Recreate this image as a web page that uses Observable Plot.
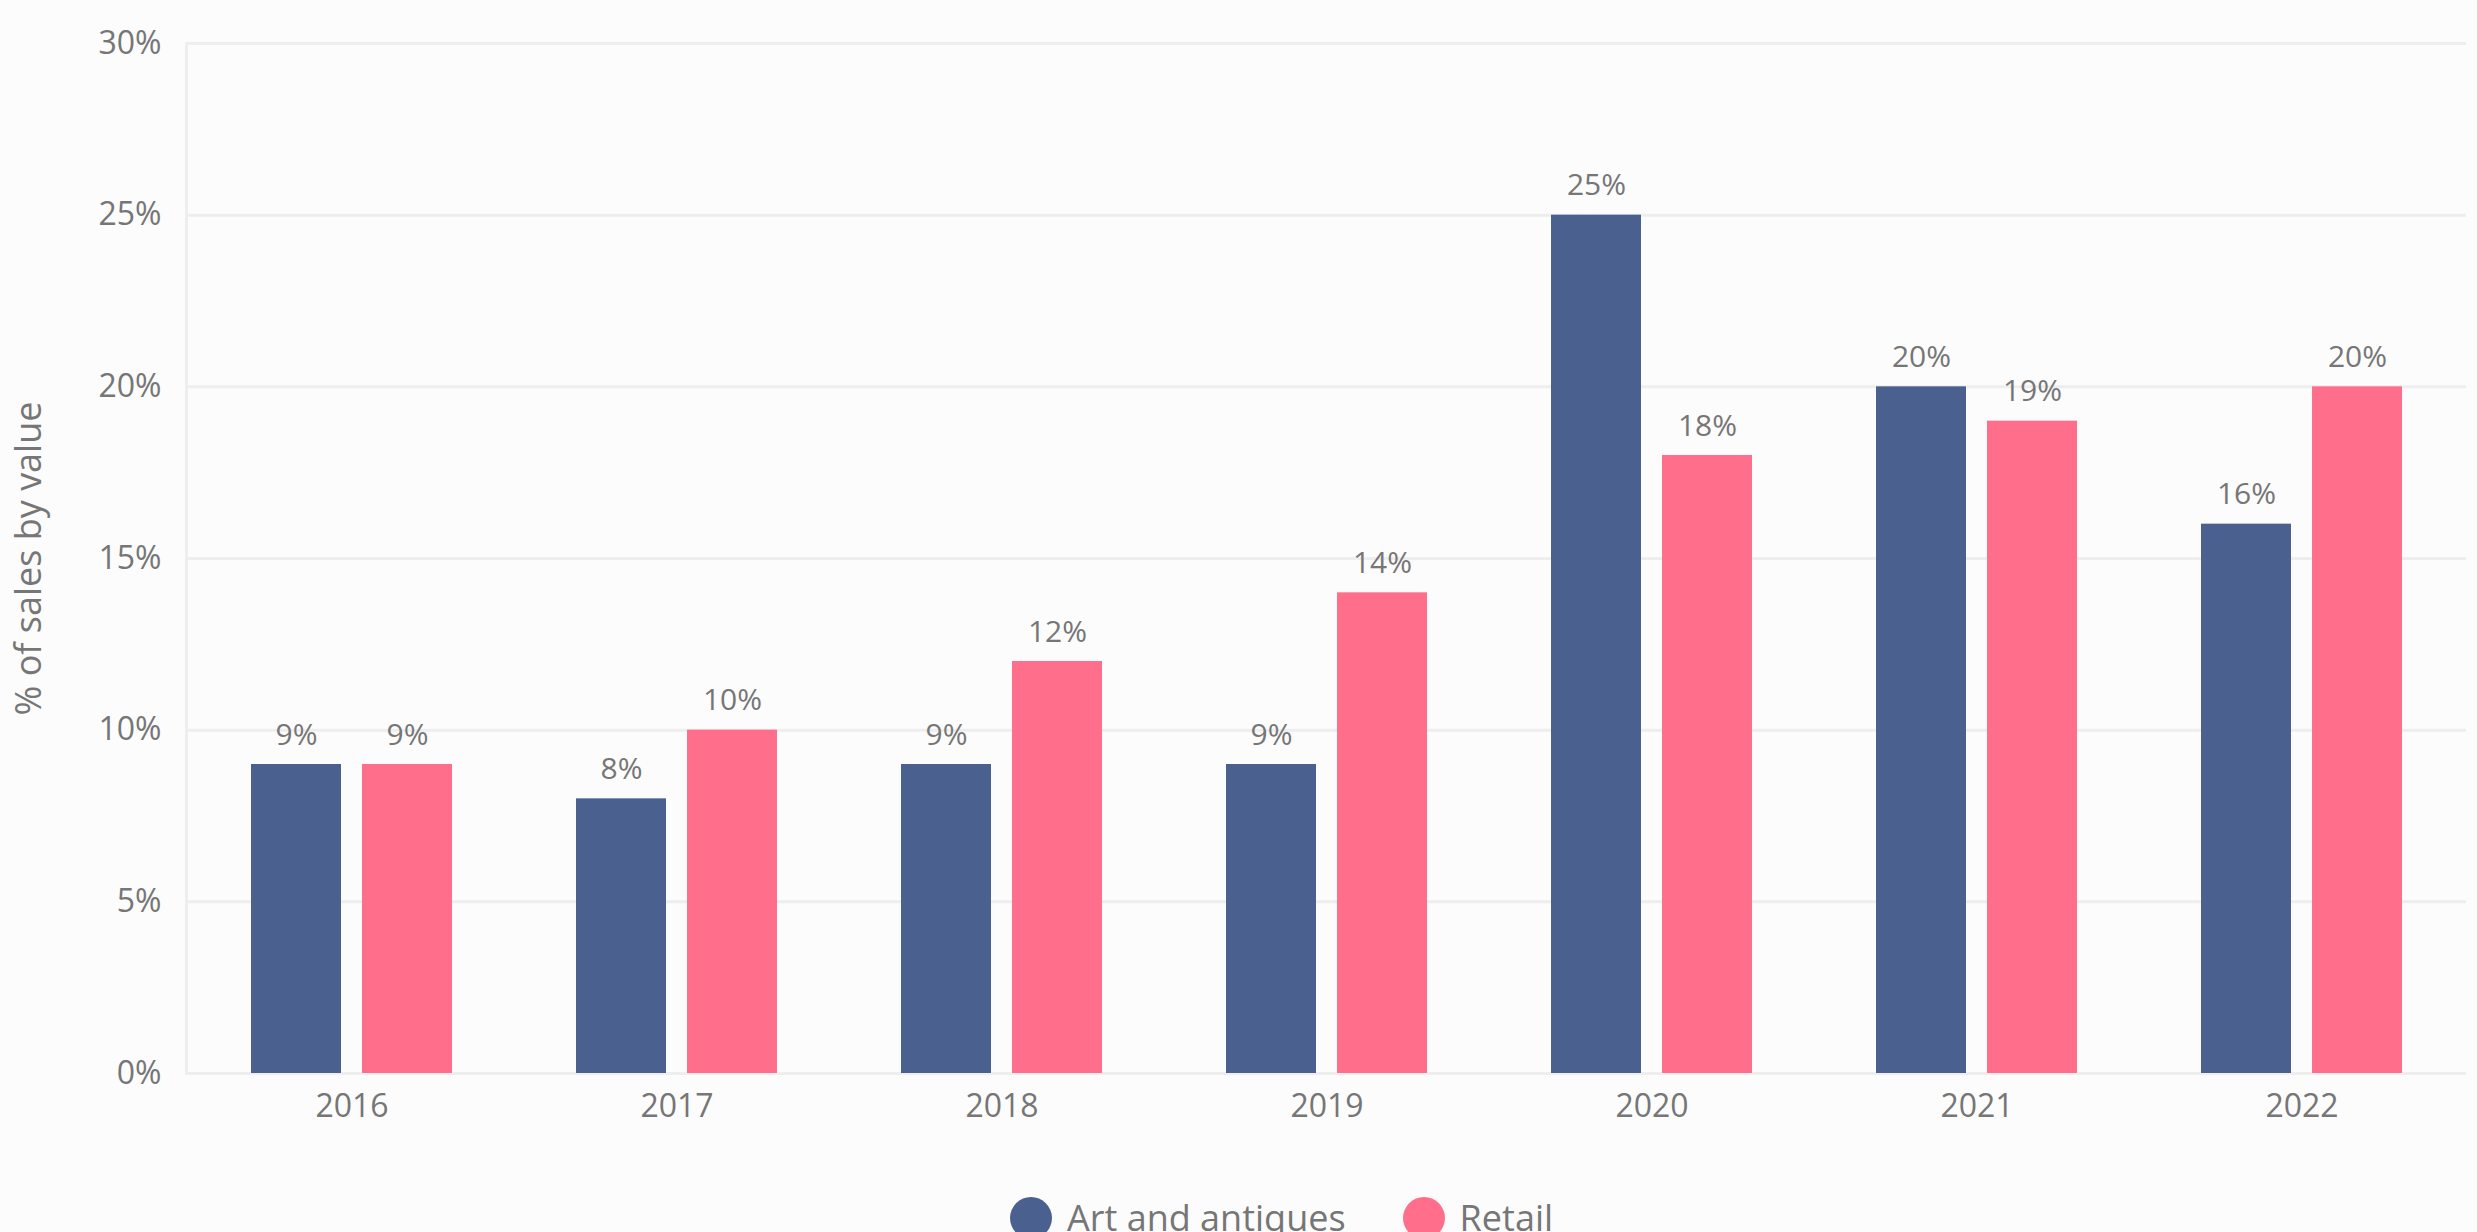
<!DOCTYPE html>
<html>
<head>
<meta charset="utf-8">
<script src="https://cdn.jsdelivr.net/npm/d3@7"></script>
<script src="https://cdn.jsdelivr.net/npm/@observablehq/plot@0.6"></script>
<style>
  html, body { margin: 0; padding: 0; background: #fcfcfc; }
  #chart { position: relative; width: 2477px; height: 1232px; overflow: hidden; }
  .legend { position: absolute; top: 1197px; left: 1010px; display: flex; align-items: center;
            font-family: "Open Sans", sans-serif; font-size: 36px; line-height: 42px; color: #767676; white-space: nowrap; }
  .legend .item { display: flex; align-items: center; margin-right: 57px; }
  .legend .sw { width: 42px; height: 42px; border-radius: 50%; margin-right: 15px; }
</style>
</head>
<body>
<div id="chart"></div>
<script>
const years = ["2016", "2017", "2018", "2019", "2020", "2021", "2022"];
const artValues = [9, 8, 9, 9, 25, 20, 16];
const retailValues = [9, 10, 12, 14, 18, 19, 20];
const seriesNames = ["Art and antiques", "Retail"];
const seriesColors = ["#4a618f", "#ff6e8a"];
const yTicks = [0, 5, 10, 15, 20, 25, 30];

const art = years.map((y, i) => ({year: y, value: artValues[i], series: seriesNames[0]}));
const retail = years.map((y, i) => ({year: y, value: retailValues[i], series: seriesNames[1]}));

const font = "'Open Sans', sans-serif";
const gray = "#767676";

const plot = Plot.plot({
  width: 2477,
  height: 1160,
  marginTop: 43,
  marginBottom: 87,
  marginLeft: 186,
  marginRight: 11,
  style: {background: "transparent", fontFamily: font, color: gray},
  x: {domain: years, padding: 0, label: null},
  y: {domain: [0, 30], ticks: yTicks, label: null},
  color: {domain: seriesNames, range: seriesColors},
  marks: [
    Plot.ruleY(yTicks, {stroke: "#eeeeee", strokeWidth: 3}),
    Plot.frame({anchor: "left", stroke: "#eeeeee", strokeWidth: 3}),
    Plot.barY(art, {x: "year", y: "value", fill: "series", insetLeft: 62, insetRight: 173}),
    Plot.barY(retail, {x: "year", y: "value", fill: "series", insetLeft: 173, insetRight: 62}),
    Plot.text(art, {x: "year", y: "value", text: d => d.value + "%", dx: -55.5, dy: -20, lineAnchor: "bottom", fill: gray, fontSize: 30}),
    Plot.text(retail, {x: "year", y: "value", text: d => d.value + "%", dx: 55.5, dy: -20, lineAnchor: "bottom", fill: gray, fontSize: 30}),
    Plot.axisY({ticks: yTicks, tickSize: 0, tickPadding: 25, tickFormat: d => d + "%", fontSize: 32, label: null}),
    Plot.axisX({tickSize: 0, tickPadding: 21, fontSize: 32, label: null}),
    Plot.text(["% of sales by value"], {frameAnchor: "left", textAnchor: "middle", dx: -157, rotate: -90, fontSize: 36, fill: gray})
  ]
});

const chart = document.getElementById("chart");
chart.appendChild(plot);

const legend = document.createElement("div");
legend.className = "legend";
seriesNames.forEach((name, i) => {
  const item = document.createElement("div");
  item.className = "item";
  const sw = document.createElement("div");
  sw.className = "sw";
  sw.style.background = seriesColors[i];
  const label = document.createElement("span");
  label.textContent = name;
  item.appendChild(sw);
  item.appendChild(label);
  legend.appendChild(item);
});
chart.appendChild(legend);
</script>
</body>
</html>
